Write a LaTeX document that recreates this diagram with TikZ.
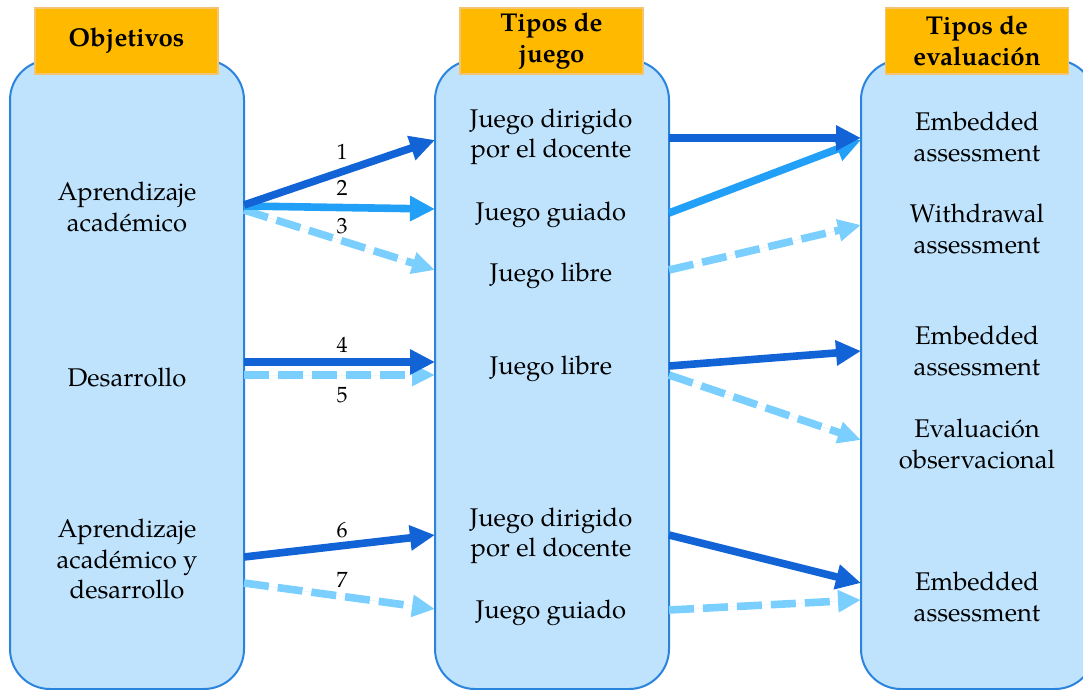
\documentclass[tikz,border=0pt]{standalone}
\usepackage{fontspec}
\setmainfont{TeX Gyre Pagella}
\usetikzlibrary{arrows.meta}
\definecolor{boxfill}{HTML}{BFE3FD}
\definecolor{boxline}{HTML}{2A83DC}
\definecolor{hdrfill}{HTML}{FFBA00}
\definecolor{hdrline}{HTML}{F2C474}
\definecolor{cdark}{HTML}{1264D6}
\definecolor{cmid}{HTML}{22A0F8}
\definecolor{clight}{HTML}{7ACFFF}
\begin{document}
\begin{tikzpicture}[x=0.5pt,y=-0.5pt,
  colbox/.style={draw=boxline,fill=boxfill,line width=1pt,rounded corners=20pt},
  hdr/.style={draw=hdrline,fill=hdrfill,line width=0.6pt,minimum width=91.5pt,minimum height=33pt,inner sep=0pt,font=\bfseries\fontsize{12.9}{15.4}\selectfont,align=center},
  txt/.style={font=\fontsize{12.8}{15.2}\selectfont,align=center,inner sep=0pt},
  lbl/.style={font=\fontsize{11}{12}\selectfont,inner sep=0pt},
  arr/.style={line width=3.8pt,-{Triangle[length=12.5pt,width=12pt]}},
  dk/.style={arr,draw=cdark,fill=cdark},
  md/.style={arr,draw=cmid,fill=cmid},
  lt/.style={arr,draw=clight,fill=clight,dash pattern=on 12.5pt off 4.5pt,-{Triangle[length=11.5pt,width=10.5pt]}}
]
\useasboundingbox (0,0) rectangle (1083,690);
\begin{scope}
\clip (0,0) rectangle (1083,690);
\draw[colbox] (10,60) rectangle (244,689);
\draw[colbox] (435,60) rectangle (669,689);
\draw[colbox] (861,60) rectangle (1095,689);
\end{scope}
\node[hdr] (h1) at (126.5,41) {\raisebox{-2pt}{Objetivos}};
\node[hdr] (h2) at (551.5,41) {Tipos de\\juego};
\node[hdr] (h3) at (977,41) {Tipos de\\evaluación};

% left texts
\node[txt] (o1) at (127,207) {Aprendizaje\\académico};
\node[txt] (o2) at (127,377) {Desarrollo};
\node[txt] (o3) at (127,559) {Aprendizaje\\académico y\\desarrollo};
% middle texts
\node[txt] (m1) at (551,137) {Juego dirigido\\por el docente};
\node[txt] (m2) at (551,215) {Juego guiado};
\node[txt] (m3) at (551,276) {Juego libre};
\node[txt] (m4) at (551,369) {Juego libre};
\node[txt] (m5) at (551,536) {Juego dirigido\\por el docente};
\node[txt] (m6) at (551,613) {Juego guiado};
% right texts
\node[txt] (r1) at (977,137) {Embedded\\assessment};
\node[txt] (r2) at (977,229) {Withdrawal\\assessment};
\node[txt] (r3) at (977,351) {Embedded\\assessment};
\node[txt] (r4) at (977,444) {Evaluación\\observacional};
\node[txt] (r5) at (977,597) {Embedded\\assessment};

% connector end points on box edges
\coordinate (a1s) at (244,205); \coordinate (a1e) at (435,140);
\coordinate (a2s) at (244,206); \coordinate (a2e) at (435,209);
\coordinate (a3s) at (244,210); \coordinate (a3e) at (435,270);
\coordinate (a4s) at (244,362); \coordinate (a4e) at (435,362);
\coordinate (a5s) at (244,375); \coordinate (a5e) at (435,375);
\coordinate (a6s) at (244,557); \coordinate (a6e) at (435,535);
\coordinate (a7s) at (244,583); \coordinate (a7e) at (435,609);
\coordinate (b1s) at (669,138); \coordinate (b1e) at (861,138);
\coordinate (b2s) at (669,213); \coordinate (b2e) at (861,140);
\coordinate (b3s) at (669,270); \coordinate (b3e) at (861,225);
\coordinate (b4s) at (669,366); \coordinate (b4e) at (861,351);
\coordinate (b5s) at (669,375); \coordinate (b5e) at (861,440);
\coordinate (b6s) at (669,535); \coordinate (b6e) at (861,583);
\coordinate (b7s) at (669,610); \coordinate (b7e) at (861,600);

\draw[lt] (a3s) -- (a3e);
\draw[md] (a2s) -- (a2e);
\draw[dk] (a1s) -- (a1e);
\draw[lt] (a5s) -- (a5e);
\draw[dk] (a4s) -- (a4e);
\draw[dk] (a6s) -- (a6e);
\draw[lt] (a7s) -- (a7e);

\draw[lt] (b3s) -- (b3e);
\draw[md] (b2s) -- (b2e);
\draw[dk] (b1s) -- (b1e);
\draw[lt] (b5s) -- (b5e);
\draw[dk] (b4s) -- (b4e);
\draw[dk] (b6s) -- (b6e);
\draw[lt] (b7s) -- (b7e);

\node[lbl] (l1) at (342,152) {1};
\node[lbl] (l2) at (342,188) {2};
\node[lbl] (l3) at (342,226) {3};
\node[lbl] (l4) at (342,345) {4};
\node[lbl] (l5) at (342,395) {5};
\node[lbl] (l6) at (342,530) {6};
\node[lbl] (l7) at (342,580) {7};
\end{tikzpicture}
\end{document}
